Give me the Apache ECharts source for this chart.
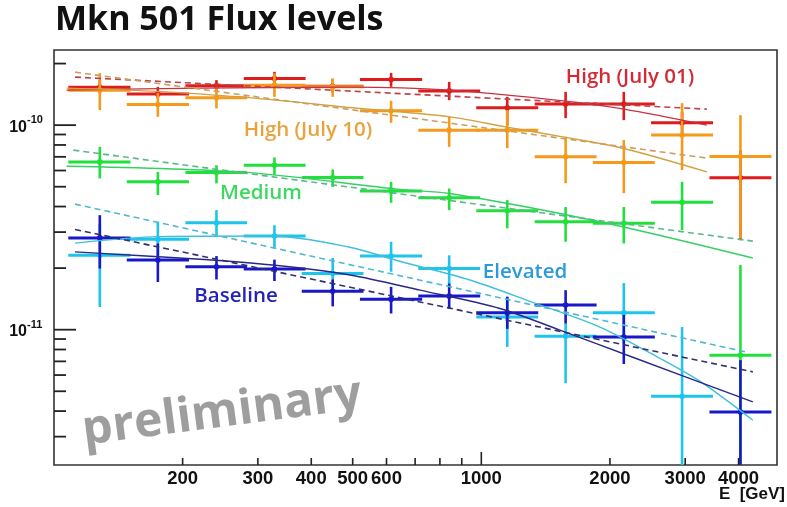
<!DOCTYPE html>
<html>
<head>
<meta charset="utf-8">
<script src="https://cdn.jsdelivr.net/npm/echarts@6/dist/echarts.min.js"></script>
<style>
  html, body { margin: 0; padding: 0; background: #ffffff; }
  #chart { width: 787px; height: 507px; }
</style>
</head>
<body>
<div id="chart"></div>
<script>
// Flux values are given in units of 1e-10
const FLUX_UNIT = 1e-10;

// Axis ranges
const X_MIN = 100, X_MAX = 4920;
const Y_MIN = 2.18e-12, Y_MAX = 2.33e-10;

// Energy bins (GeV): centre, lower and upper edge
const binCenter = [128, 175, 240, 328, 449, 615, 841, 1150, 1575, 2155, 2950, 4040];
const binLow    = [108, 148, 203, 278, 380, 520, 712, 973, 1333, 1824, 2496, 3419];
const binHigh   = [151, 207, 283, 388, 530, 727, 994, 1359, 1861, 2547, 3486, 4774];

// High (July 01)
const highJul01     = [1.53, 1.42, 1.56, 1.69, 1.55, 1.67, 1.47, 1.215, 1.267, 1.267, 1.026, 0.553];
const highJul01Lo   = [1.43, 1.355, 1.455, 1.517, 1.434, 1.539, 1.325, 1.0, 1.082, 1.058, 0.894, 0.274];
const highJul01Hi   = [1.66, 1.539, 1.66, 1.822, 1.677, 1.801, 1.628, 1.375, 1.455, 1.455, 1.158, 0.755];

// High (July 10)
const highJul10     = [1.483, 1.262, 1.36, 1.569, 1.539, 1.175, 0.945, 0.945, 0.70, 0.657, 0.894, 0.703];
const highJul10Lo   = [1.184, 1.098, 1.207, 1.375, 1.375, 1.026, 0.783, 0.772, 0.52, 0.465, 0.603, 0.28];
const highJul10Hi   = [1.796, 1.434, 1.539, 1.79, 1.692, 1.315, 1.098, 1.184, 0.877, 0.845, 1.281, 1.119];

// Medium
const medium        = [0.661, 0.528, 0.587, 0.637, 0.555, 0.477, 0.441, 0.381, 0.337, 0.331, 0.42, 0.075];
const mediumLo      = [0.549, 0.455, 0.519, 0.570, 0.499, 0.417, 0.384, 0.313, 0.269, 0.264, 0.307, 0.015];
const mediumHi      = [0.783, 0.591, 0.637, 0.695, 0.607, 0.528, 0.490, 0.430, 0.398, 0.398, 0.528, 0.207];

// Elevated
const elevated      = [0.231, 0.277, 0.333, 0.287, 0.188, 0.229, 0.199, 0.1155, 0.093, 0.121, 0.0473, null];
const elevatedLo    = [0.129, 0.231, 0.287, 0.250, 0.156, 0.192, 0.162, 0.0824, 0.0547, 0.0859, 0.015, null];
const elevatedHi    = [0.33, 0.337, 0.384, 0.324, 0.224, 0.269, 0.231, 0.1446, 0.107, 0.169, 0.103, null];

// Baseline
const baseline      = [0.281, 0.219, 0.203, 0.198, 0.154, 0.141, 0.146, 0.121, 0.132, 0.092, null, 0.0396];
const baselineLo    = [0.199, 0.171, 0.176, 0.173, 0.130, 0.120, 0.127, 0.101, 0.107, 0.068, null, 0.015];
const baselineHi    = [0.363, 0.264, 0.229, 0.220, 0.176, 0.162, 0.168, 0.145, 0.156, 0.118, null, 0.071];

// Fitted spectra: curved (solid) and power law (dashed)
const highJul01CurveE = [107, 220, 493, 845, 1576, 2156, 3371];
const highJul01CurveF = [1.483, 1.517, 1.534, 1.483, 1.31, 1.197, 1.0];
const highJul01PlE    = [112, 3371];
const highJul01PlF    = [1.717, 1.197];

const highJul10CurveE = [107, 168, 277, 520, 845, 1148, 1576, 2156, 3371];
const highJul10CurveF = [1.517, 1.467, 1.37, 1.207, 1.098, 0.978, 0.871, 0.769, 0.591];
const highJul10PlE    = [112, 3371];
const highJul10PlF    = [1.816, 0.690];

const mediumCurveE    = [107, 277, 645, 845, 1894, 4319];
const mediumCurveF    = [0.630, 0.589, 0.485, 0.463, 0.337, 0.224];
const mediumPlE       = [111, 4319];
const mediumPlF       = [0.755, 0.271];

const elevatedCurveE  = [112, 177, 325, 492, 645, 940, 1320, 1894, 2617, 3246, 4319];
const elevatedCurveF  = [0.265, 0.285, 0.287, 0.253, 0.216, 0.175, 0.136, 0.103, 0.0725, 0.056, 0.0361];
const elevatedPlE     = [112, 4140];
const elevatedPlF     = [0.411, 0.078];

const baselineCurveE  = [112, 220, 325, 493, 719, 1105, 1527, 2262, 4319];
const baselineCurveF  = [0.240, 0.221, 0.207, 0.185, 0.156, 0.127, 0.0995, 0.0733, 0.0444];
const baselinePlE     = [112, 4319];
const baselinePlF     = [0.309, 0.0622];

// Axis ticks and labels
const xMinorTicks  = [200, 300, 400, 500, 600, 700, 800, 900, 2000, 3000, 4000];
const xMajorTicks  = [1000];
const xLabelValues = [200, 300, 400, 500, 600, 1000, 2000, 3000, 4000];
const xLabels      = ['200', '300', '400', '500', '600', '1000', '2000', '3000', '4000'];
const yMajorTicks  = [1e-11, 1e-10];
const yMinorTicks  = [3e-12, 4e-12, 5e-12, 6e-12, 7e-12, 8e-12, 9e-12,
                      2e-11, 3e-11, 4e-11, 5e-11, 6e-11, 7e-11, 8e-11, 9e-11, 2e-10];
const yLabelValues = [1e-11, 1e-10];
const yLabelExp    = ['-11', '-10'];

const chart = echarts.init(document.getElementById('chart'), null, { renderer: 'canvas' });

function crossSeries(name, color, flux, lo, hi, z) {
  const data = [];
  binCenter.forEach((e, i) => {
    if (flux[i] == null) return;
    data.push([e, flux[i] * FLUX_UNIT, binLow[i], binHigh[i], lo[i] * FLUX_UNIT, hi[i] * FLUX_UNIT]);
  });
  return {
    type: 'custom', name: name, data: data, clip: true, z: z, silent: true,
    encode: { x: 0, y: 1 },
    renderItem: function (params, api) {
      const c = api.coord([api.value(0), api.value(1)]);
      const l = api.coord([api.value(2), api.value(1)]);
      const r = api.coord([api.value(3), api.value(1)]);
      const b = api.coord([api.value(0), api.value(4)]);
      const t = api.coord([api.value(0), api.value(5)]);
      return {
        type: 'group',
        children: [
          { type: 'line', shape: { x1: l[0], y1: l[1], x2: r[0], y2: r[1] }, style: { stroke: color, lineWidth: 3 } },
          { type: 'line', shape: { x1: b[0], y1: b[1], x2: t[0], y2: t[1] }, style: { stroke: color, lineWidth: 2.6 } },
          { type: 'circle', shape: { cx: c[0], cy: c[1], r: 2.8 }, style: { fill: color } }
        ]
      };
    }
  };
}

function fitSeries(E, F, color, dashed, z) {
  return {
    type: 'line', silent: true, z: z, clip: true,
    data: E.map((e, i) => [e, F[i] * FLUX_UNIT]),
    symbol: 'none', showSymbol: false,
    smooth: dashed ? false : 0.3,
    lineStyle: { color: color, width: dashed ? 1.6 : 1.4, type: dashed ? [6, 4] : 'solid' }
  };
}

function xTickSeries() {
  const data = xMinorTicks.map(v => [v, Y_MIN, 7]).concat(xMajorTicks.map(v => [v, Y_MIN, 13]));
  return {
    type: 'custom', silent: true, clip: false, z: 20, data: data,
    renderItem: function (params, api) {
      const p = api.coord([api.value(0), api.value(1)]);
      return { type: 'line', shape: { x1: p[0], y1: p[1], x2: p[0], y2: p[1] - api.value(2) },
               style: { stroke: '#222', lineWidth: 1.6 } };
    }
  };
}

function yTickSeries() {
  const data = yMinorTicks.map(v => [X_MIN, v, 12]).concat(yMajorTicks.map(v => [X_MIN, v, 22]));
  return {
    type: 'custom', silent: true, clip: false, z: 20, data: data,
    renderItem: function (params, api) {
      const p = api.coord([api.value(0), api.value(1)]);
      return { type: 'line', shape: { x1: p[0], y1: p[1], x2: p[0] + api.value(2), y2: p[1] },
               style: { stroke: '#222', lineWidth: 1.8 } };
    }
  };
}

function xLabelSeries() {
  return {
    type: 'custom', silent: true, clip: false, z: 20,
    data: xLabelValues.map((v, i) => [v, Y_MIN, i]),
    renderItem: function (params, api) {
      const p = api.coord([api.value(0), api.value(1)]);
      return { type: 'text', x: p[0], y: p[1] + 14,
               style: { text: xLabels[api.value(2)], fill: '#111', align: 'center', verticalAlign: 'middle',
                        font: 'bold 18.5px "Liberation Sans", Arial, sans-serif' } };
    }
  };
}

function yLabelSeries() {
  return {
    type: 'custom', silent: true, clip: false, z: 20,
    data: yLabelValues.map((v, i) => [X_MIN, v, i]),
    renderItem: function (params, api) {
      const p = api.coord([api.value(0), api.value(1)]);
      return {
        type: 'group',
        children: [
          { type: 'text', x: p[0] - 27, y: p[1] + 2,
            style: { text: '10', fill: '#111', align: 'right', verticalAlign: 'middle',
                     font: 'bold 16px "Liberation Sans", Arial, sans-serif' } },
          { type: 'text', x: p[0] - 27, y: p[1] - 5,
            style: { text: yLabelExp[api.value(2)], fill: '#111', align: 'left', verticalAlign: 'middle',
                     font: 'bold 11px "Liberation Sans", Arial, sans-serif' } }
        ]
      };
    }
  };
}

const labelFont = '600 20.5px "Open Sans", "Noto Sans", sans-serif';

const option = {
  animation: false,
  backgroundColor: '#ffffff',
  grid: { left: 54, right: 10, top: 50, bottom: 42, show: true, borderColor: '#333', borderWidth: 1.6,
          backgroundColor: 'transparent' },
  xAxis: {
    type: 'log', logBase: 10, min: X_MIN, max: X_MAX,
    axisLine: { show: false }, axisTick: { show: false }, axisLabel: { show: false }, splitLine: { show: false }
  },
  yAxis: {
    type: 'log', logBase: 10, min: Y_MIN, max: Y_MAX,
    axisLine: { show: false }, axisTick: { show: false }, axisLabel: { show: false }, splitLine: { show: false }
  },
  graphic: [
    { type: 'text', left: 55, top: 3, z: 30,
      style: { text: 'Mkn 501 Flux levels', fill: '#111', font: 'bold 34px "Open Sans", sans-serif' } },
    { type: 'text', x: 785, y: 494, z: 30,
      style: { text: 'E  [GeV]', fill: '#111', align: 'right', verticalAlign: 'middle',
               font: 'bold 17px "Liberation Sans", Arial, sans-serif' } },
    { type: 'text', x: 222, y: 413, rotation: 0.13, z: 1,
      style: { text: 'preliminary', fill: '#9e9e9e', align: 'center', verticalAlign: 'middle',
               font: 'bold 48px "Open Sans", sans-serif' } },
    { type: 'text', x: 630, y: 77, z: 30,
      style: { text: 'High (July 01)', fill: '#d42a34', align: 'center', verticalAlign: 'middle', font: labelFont } },
    { type: 'text', x: 308, y: 130, z: 30,
      style: { text: 'High (July 10)', fill: '#e8a33c', align: 'center', verticalAlign: 'middle', font: labelFont } },
    { type: 'text', x: 261, y: 193, z: 30,
      style: { text: 'Medium', fill: '#3cd860', align: 'center', verticalAlign: 'middle', font: labelFont } },
    { type: 'text', x: 525, y: 272, z: 30,
      style: { text: 'Elevated', fill: '#2c9ad8', align: 'center', verticalAlign: 'middle', font: labelFont } },
    { type: 'text', x: 236, y: 296, z: 30,
      style: { text: 'Baseline', fill: '#2424b4', align: 'center', verticalAlign: 'middle', font: labelFont } }
  ],
  series: [
    crossSeries('High (July 01)', '#de1c1c', highJul01, highJul01Lo, highJul01Hi, 3),
    crossSeries('High (July 10)', '#f59a1a', highJul10, highJul10Lo, highJul10Hi, 4),
    crossSeries('Medium', '#22e03c', medium, mediumLo, mediumHi, 5),
    crossSeries('Elevated', '#1ec4ec', elevated, elevatedLo, elevatedHi, 6),
    crossSeries('Baseline', '#1818c8', baseline, baselineLo, baselineHi, 7),

    fitSeries(highJul01CurveE, highJul01CurveF, '#c83240', false, 10),
    fitSeries(highJul01PlE, highJul01PlF, '#c0404a', true, 10),
    fitSeries(highJul10CurveE, highJul10CurveF, '#d4a040', false, 10),
    fitSeries(highJul10PlE, highJul10PlF, '#c8a060', true, 10),
    fitSeries(mediumCurveE, mediumCurveF, '#34d060', false, 10),
    fitSeries(mediumPlE, mediumPlF, '#5ab88a', true, 10),
    fitSeries(elevatedCurveE, elevatedCurveF, '#3cc0dc', false, 10),
    fitSeries(elevatedPlE, elevatedPlF, '#50b8d0', true, 10),
    fitSeries(baselineCurveE, baselineCurveF, '#28288c', false, 10),
    fitSeries(baselinePlE, baselinePlF, '#303070', true, 10),

    xTickSeries(),
    yTickSeries(),
    xLabelSeries(),
    yLabelSeries()
  ]
};

chart.setOption(option);
</script>
</body>
</html>
